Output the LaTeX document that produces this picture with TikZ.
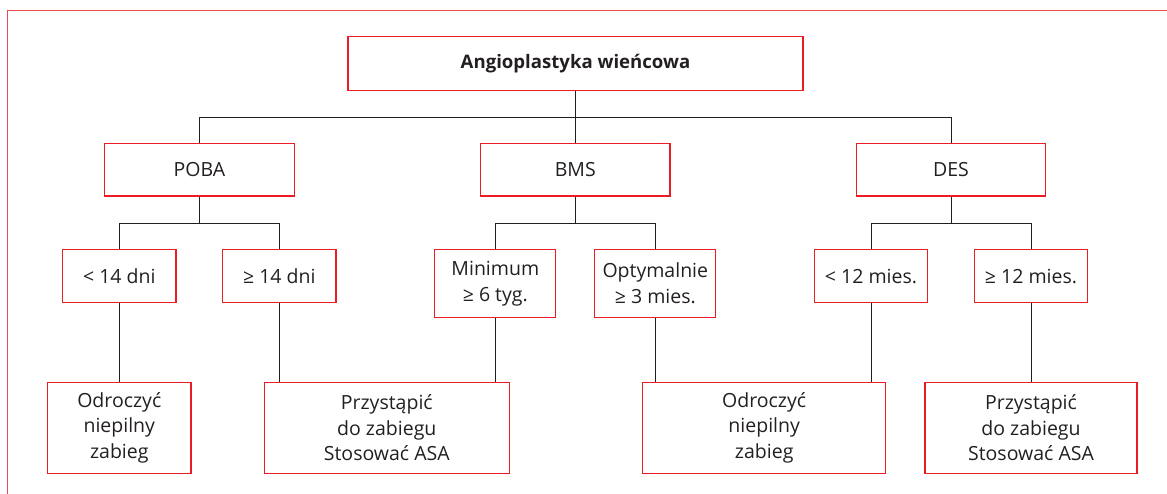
\documentclass[tikz,border=0pt]{standalone}
\usepackage{fontspec}
\setmainfont{Open Sans}
\definecolor{boxred}{RGB}{237,28,36}
\definecolor{ink}{RGB}{35,31,32}
\tikzset{x=1pt, y=-1pt, inner sep=0pt,
  box/.style={draw=boxred, line width=1.1pt, text=ink, align=center,
    font=\fontsize{19.5}{25.7}\selectfont},
  link/.style={draw=ink, line width=0.9pt}}

\begin{document}
\begin{tikzpicture}
\useasboundingbox (0,0) rectangle (1167,494);
\draw[boxred!80, line width=1pt] (7.5,494) -- (7.5,10.3) -- (1167,10.3);
% top box
\node[box, minimum width=455pt, minimum height=53.3pt,
  font=\fontsize{18.6}{25.7}\selectfont\bfseries] (root) at (575.5,63.5) {Angioplastyka wieńcowa};
% stent types
\foreach \name/\x/\txt in {poba/199.5/POBA, bms/575.3/BMS, des/951/DES} {
  \node[box, minimum width=189.3pt, minimum height=52.7pt] (\name) at (\x,169.7) {\txt};
} % end of \foreach \name
% time since procedure
\node[box, minimum width=113.3pt, minimum height=52.6pt] (dni1) at (119.3,276) {< 14 dni};
\node[box, minimum width=113.3pt, minimum height=52.6pt] (dni2) at (279.3,276) {≥ 14 dni};
\node[box, minimum width=121pt, minimum height=67.6pt] (tyg) at (495.3,283.5) {Minimum\\≥ 6 tyg.};
\node[box, minimum width=121pt, minimum height=67.6pt] (opt) at (655.3,283.5) {Optymalnie\\≥ 3 mies.};
\node[box, minimum width=113.3pt, minimum height=52.6pt] (mies1) at (871,276) {< 12 mies.};
\node[box, minimum width=113.3pt, minimum height=52.6pt] (mies2) at (1031,276) {≥ 12 mies.};
% decisions
\node[box, minimum width=143.3pt, minimum height=90.7pt] (odr1) at (119.3,427.7) {Odroczyć\\niepilny\\zabieg};
\node[box, minimum width=245pt, minimum height=90.7pt] (prz1) at (386.8,427.7) {Przystąpić\\do zabiegu\\Stosować ASA};
\node[box, minimum width=243pt, minimum height=90.7pt] (odr2) at (764.2,427.7) {Odroczyć\\niepilny\\zabieg};
\node[box, minimum width=212pt, minimum height=90.7pt] (prz2) at (1031,427.7) {Przystąpić\\do zabiegu\\Stosować ASA};
% connectors
\foreach \a/\b in {root/poba, root/bms, root/des, poba/dni1, poba/dni2,
  bms/tyg, bms/opt, des/mies1, des/mies2} {
  \draw[link] (\a.south) -- ++(0,26.8) -| (\b.north);
} % end of \foreach \a
\foreach \a/\b in {dni1/odr1, dni2/prz1, tyg/prz1, opt/odr2, mies1/odr2, mies2/prz2} {
  \draw[link] (\a.south) -- (\a.south |- \b.north);
} % end of \foreach \a
\end{tikzpicture}
\end{document}
